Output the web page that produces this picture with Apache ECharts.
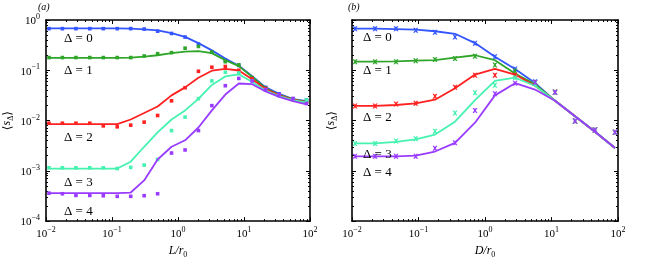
<!DOCTYPE html>
<html>
<head>
<meta charset="utf-8">
<script src="https://cdn.jsdelivr.net/npm/echarts@6/dist/echarts.min.js"></script>
<style>html,body{margin:0;padding:0;background:#fff}#c{width:650px;height:264px}</style>
</head>
<body>
<div id="c"></div>
<script>
// ---------- DATA ----------
const xA = [0.0111, 0.0177, 0.0284, 0.0461, 0.0738, 0.120, 0.192, 0.307, 0.491, 0.798,
            1.28, 2.04, 3.26, 5.21, 8.34, 13.3, 21.3, 34.0, 55.3, 88.5];
const xB = [0.0111, 0.0222, 0.0459, 0.0908, 0.177, 0.354, 0.708, 1.41, 2.83, 5.65,
            11.3, 22.6, 45.1, 90.2];

// panel (a): model lines
const lineA0 = [0.682, 0.682, 0.682, 0.682, 0.682, 0.682, 0.673, 0.652, 0.624, 0.551,
                0.463, 0.347, 0.249, 0.172, 0.123, 0.0766, 0.0457, 0.034, 0.0266, 0.0244];
const lineA1 = [0.177, 0.177, 0.177, 0.177, 0.177, 0.177, 0.179, 0.187, 0.199, 0.219,
                0.234, 0.240, 0.219, 0.159, 0.121, 0.0743, 0.0438, 0.0326, 0.0266, 0.0236];
const lineA2 = [0.00846, 0.00846, 0.00846, 0.00846, 0.00846, 0.00846, 0.0105, 0.0141, 0.019, 0.0317,
                0.0457, 0.0711, 0.098, 0.107, 0.099, 0.066, 0.0425, 0.0317, 0.0261, 0.0229];
const lineA3 = [0.00111, 0.00111, 0.00111, 0.00111, 0.00111, 0.00111, 0.00152, 0.00301, 0.00584, 0.0105,
                0.0159, 0.027, 0.051, 0.0753, 0.083, 0.0583, 0.0395, 0.0308, 0.0255, 0.0226];
const lineA4 = [0.000359, 0.000359, 0.000359, 0.000359, 0.000359, 0.000359, 0.00037, 0.000645, 0.00168, 0.00301,
                0.00405, 0.00728, 0.0159, 0.0329, 0.0546, 0.0529, 0.0378, 0.0295, 0.0244, 0.021];
// panel (a): simulation points
const simA0 = [0.673, 0.673, 0.673, 0.673, 0.673, 0.673, 0.673, 0.66, 0.60, 0.54,
               0.458, 0.332, 0.23, 0.159, 0.125, 0.0711, 0.0457, 0.034, 0.0273, 0.0255];
const simA1 = [0.179, 0.179, 0.179, 0.179, 0.179, 0.179, 0.179, 0.192, 0.214, 0.224,
               0.275, 0.298, 0.23, 0.148, 0.128, 0.0711, 0.0438, 0.0326, 0.027, 0.0242];
const simA2 = [0.00884, 0.00884, 0.00884, 0.00884, 0.00785, 0.0075, 0.0081, 0.0093, 0.0126, 0.0247,
               0.045, 0.0955, 0.115, 0.119, 0.10, 0.068, 0.043, 0.032, 0.0263, 0.0231];
const simA3 = [0.00115, 0.00115, 0.00115, 0.00115, 0.00115, 0.00111, 0.00117, 0.0013, 0.00168, 0.00631,
               0.0117, 0.0273, 0.0615, 0.0914, 0.0886, 0.0621, 0.0403, 0.031, 0.0263, 0.0255];
const simA4 = [0.00036, 0.00035, 0.000324, 0.000324, 0.00032, 0.000311, 0.000311, 0.00032, 0.00035, 0.00226,
               0.0026, 0.00631, 0.0198, 0.0493, 0.0689, 0.0615, 0.0413, 0.033, 0.0273, 0.0218];

// panel (b): model lines
const lineB0 = [0.673, 0.673, 0.66, 0.644, 0.597, 0.532, 0.347, 0.185, 0.106, 0.056,
                0.0247, 0.0122, 0.006, 0.00285];
const lineB1 = [0.148, 0.148, 0.15, 0.155, 0.159, 0.179, 0.199, 0.159, 0.0859, 0.0529,
                0.0247, 0.0122, 0.006, 0.00285];
const lineB2 = [0.0195, 0.0195, 0.0204, 0.0219, 0.026, 0.0438, 0.0822, 0.107, 0.0822, 0.0493,
                0.0247, 0.0122, 0.006, 0.00285];
const lineB3 = [0.0035, 0.0035, 0.00376, 0.00423, 0.00527, 0.00948, 0.0255, 0.0615, 0.0711, 0.0493,
                0.0247, 0.0122, 0.006, 0.00285];
const lineB4 = [0.00194, 0.00194, 0.00194, 0.002, 0.00242, 0.0036, 0.00908, 0.0317, 0.0553, 0.0413,
                0.0247, 0.0122, 0.006, 0.00285];
// panel (b): simulation points
const simB0 = [0.673, 0.673, 0.673, 0.624, 0.571, 0.458, 0.343, 0.185, 0.106, 0.0588,
               0.0367, 0.00978, 0.00649, 0.00584];
const simB1 = [0.148, 0.148, 0.148, 0.155, 0.164, 0.172, 0.190, 0.128, 0.097, 0.057,
               0.0367, 0.00978, 0.00649, 0.00584];
const simB2 = [0.0195, 0.0195, 0.0213, 0.022, 0.0304, 0.0457, 0.080, 0.080, 0.080, 0.057,
               0.0367, 0.00978, 0.00649, 0.00584];
const simB3 = [0.0035, 0.0035, 0.00393, 0.00436, 0.00611, 0.0141, 0.0356, 0.0506, 0.0711, 0.055,
               0.0367, 0.00978, 0.00649, 0.00584];
const simB4 = [0.00194, 0.00194, 0.00194, 0.00194, 0.00281, 0.0036, 0.0159, 0.034, 0.0553, 0.057,
               0.0367, 0.00978, 0.00649, 0.00584];

const deltaLabels = ['\u0394 = 0', '\u0394 = 1', '\u0394 = 2', '\u0394 = 3', '\u0394 = 4'];
const xTicks = [0.01, 0.1, 1, 10, 100];
const yTicks = [0.0001, 0.001, 0.01, 0.1, 1];
const xMinor = [0.02,0.03,0.04,0.05,0.06,0.07,0.08,0.09, 0.2,0.3,0.4,0.5,0.6,0.7,0.8,0.9,
                2,3,4,5,6,7,8,9, 20,30,40,50,60,70,80,90];
const yMinor = [0.0002,0.0003,0.0004,0.0005,0.0006,0.0007,0.0008,0.0009,
                0.002,0.003,0.004,0.005,0.006,0.007,0.008,0.009,
                0.02,0.03,0.04,0.05,0.06,0.07,0.08,0.09,
                0.2,0.3,0.4,0.5,0.6,0.7,0.8,0.9];

// ---------- STYLE ----------
const FONT = '"Liberation Serif", "DejaVu Serif", serif';
const colors = ['#3355ff', '#2fa52a', '#ff2020', '#45f2b0', '#9a3cff'];
const crossPath = 'path://M0,0L3,0L5,2.4L7,0L10,0L6.6,5L10,10L7,10L5,7.6L3,10L0,10L3.4,5Z';

function supLabel(v) {
  const e = Math.round(Math.log10(v));
  return '{b|10}{s|' + (e < 0 ? '\u2212' + (-e) : String(e)) + '}';
}
const supRich = {
  b: { fontFamily: FONT, fontSize: 11, color: '#000', verticalAlign: 'bottom' },
  s: { fontFamily: FONT, fontSize: 8, color: '#000', padding: [0, 0, 6, 0], verticalAlign: 'bottom' }
};
const nameRich = {
  i: { fontFamily: FONT, fontSize: 12, fontStyle: 'italic', color: '#000', verticalAlign: 'top' },
  sub: { fontFamily: FONT, fontSize: 8, color: '#000', padding: [6, 0, 0, 0], verticalAlign: 'top' }
};
const AX = { color: '#000', width: 1.6 };
const TK = { color: '#000', width: 1 };

function xAxes(gi, name) {
  const base = { type: 'log', logBase: 10, gridIndex: gi, min: 0.01, max: 100, splitLine: { show: false } };
  return [
    Object.assign({}, base, {
      position: 'bottom', axisLine: { show: true, lineStyle: AX },
      axisTick: { show: true, inside: true, length: 4, lineStyle: TK, customValues: xTicks },
      axisLabel: { show: true, customValues: xTicks, formatter: supLabel, rich: supRich, margin: 5 },
      name: name, nameLocation: 'middle', nameGap: 19,
      nameTextStyle: { rich: nameRich }
    }),
    Object.assign({}, base, {
      position: 'bottom', axisLine: { show: false },
      axisTick: { show: true, inside: true, length: 2, lineStyle: TK, customValues: xMinor },
      axisLabel: { show: false }
    }),
    Object.assign({}, base, {
      position: 'top', axisLine: { show: true, lineStyle: AX },
      axisTick: { show: true, inside: true, length: 4, lineStyle: TK, customValues: xTicks },
      axisLabel: { show: false }
    }),
    Object.assign({}, base, {
      position: 'top', axisLine: { show: false },
      axisTick: { show: true, inside: true, length: 2, lineStyle: TK, customValues: xMinor },
      axisLabel: { show: false }
    })
  ];
}
function yAxes(gi, showLabels, gap) {
  const base = { type: 'log', logBase: 10, gridIndex: gi, min: 0.0001, max: 1, splitLine: { show: false } };
  return [
    Object.assign({}, base, {
      position: 'left', axisLine: { show: true, lineStyle: AX },
      axisTick: { show: true, inside: true, length: 4, lineStyle: TK, customValues: yTicks },
      axisLabel: { show: showLabels, customValues: yTicks, formatter: supLabel, rich: supRich, margin: 6 },
      name: '\u27E8{i|s}{sub|\u0394}\u27E9', nameLocation: 'middle', nameGap: gap, nameRotate: 90,
      nameTextStyle: { fontFamily: FONT, fontSize: 12, color: '#000', rich: nameRich }
    }),
    Object.assign({}, base, {
      position: 'left', axisLine: { show: false },
      axisTick: { show: true, inside: true, length: 2, lineStyle: TK, customValues: yMinor },
      axisLabel: { show: false }
    }),
    Object.assign({}, base, {
      position: 'right', axisLine: { show: true, lineStyle: AX },
      axisTick: { show: true, inside: true, length: 4, lineStyle: TK, customValues: yTicks },
      axisLabel: { show: false }
    }),
    Object.assign({}, base, {
      position: 'right', axisLine: { show: false },
      axisTick: { show: true, inside: true, length: 2, lineStyle: TK, customValues: yMinor },
      axisLabel: { show: false }
    })
  ];
}

const panels = [
  { x: xA, lines: [lineA0, lineA1, lineA2, lineA3, lineA4], sims: [simA0, simA1, simA2, simA3, simA4],
    symbol: 'rect', size: 3.6 },
  { x: xB, lines: [lineB0, lineB1, lineB2, lineB3, lineB4], sims: [simB0, simB1, simB2, simB3, simB4],
    symbol: crossPath, size: 5 }
];
const zip = (xs, ys) => xs.map((v, i) => [v, ys[i]]);

const series = [];
panels.forEach((p, pi) => {
  for (let k = 0; k < 5; k++) {
    series.push({
      type: 'line', xAxisIndex: pi * 4, yAxisIndex: pi * 4, data: zip(p.x, p.lines[k]),
      showSymbol: false, smooth: false, z: 2 + k,
      lineStyle: { color: colors[k], width: 1.8 }, itemStyle: { color: colors[k] }
    });
    series.push({
      type: 'scatter', xAxisIndex: pi * 4, yAxisIndex: pi * 4, data: zip(p.x, p.sims[k]),
      symbol: p.symbol, symbolSize: p.size, z: 2 + k,
      itemStyle: { color: colors[k], opacity: 1 }
    });
  }
});

const labelPos = [
  { left: 64, ys: [39, 70.7, 137.3, 182.7, 211.7] },
  { left: 363, ys: [37.7, 71, 117.3, 155, 172.7] }
];
const graphics = [];
labelPos.forEach(lp => {
  lp.ys.forEach((y, k) => {
    graphics.push({ type: 'text', x: lp.left, y: y, z: 100,
      style: { text: deltaLabels[k], font: '13px ' + FONT, fill: '#000', align: 'left', verticalAlign: 'middle' } });
  });
});
graphics.push({ type: 'text', x: 38, y: 7, style: { text: '(a)', font: 'italic 10px ' + FONT, fill: '#000', align: 'left', verticalAlign: 'middle' } });
graphics.push({ type: 'text', x: 348, y: 7, style: { text: '(b)', font: 'italic 10px ' + FONT, fill: '#000', align: 'left', verticalAlign: 'middle' } });

const chart = echarts.init(document.getElementById('c'), null, { renderer: 'canvas' });
chart.setOption({
  animation: false,
  backgroundColor: '#fff',
  grid: [
    { left: 45, top: 20, width: 265, height: 209 },
    { left: 352, top: 20, width: 266, height: 209 }
  ],
  xAxis: xAxes(0, '{i|L/r}{sub|0}').concat(xAxes(1, '{i|D/r}{sub|0}')),
  yAxis: yAxes(0, true, 31).concat(yAxes(1, false, 13)),
  series: series,
  graphic: graphics
});
</script>
</body>
</html>
